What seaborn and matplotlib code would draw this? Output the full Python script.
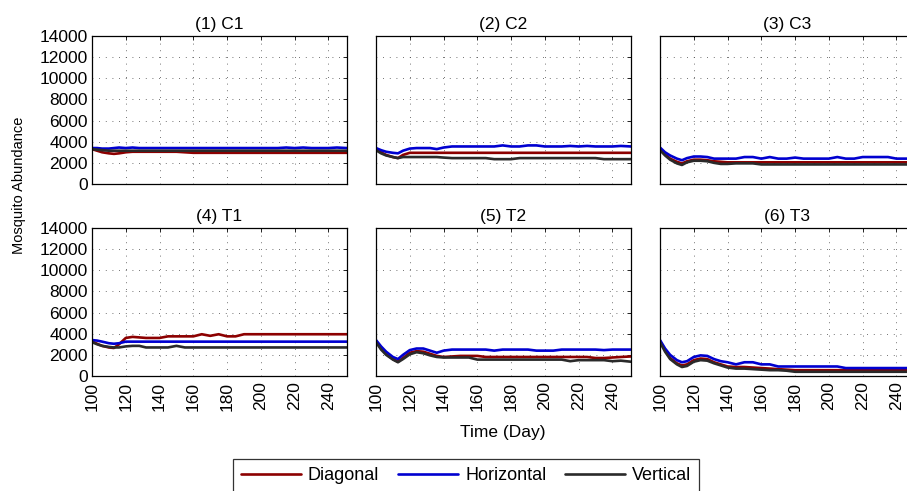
import numpy as np
import pandas as pd
import matplotlib
matplotlib.use("Agg")
import matplotlib.pyplot as plt
import seaborn as sns

sns.set_style("white")
plt.rcParams['font.family'] = ['Liberation Sans', 'DejaVu Sans']
plt.rcParams['text.color'] = 'black'
plt.rcParams['axes.labelcolor'] = 'black'
plt.rcParams['xtick.color'] = 'black'
plt.rcParams['ytick.color'] = 'black'

days = [100, 103, 106, 110, 113, 116, 120, 124, 128, 132, 136, 140, 145, 150,
        155, 160, 165, 170, 175, 180, 185, 190, 195, 200, 205, 210, 215, 220,
        225, 230, 235, 240, 245, 251]

panels = ["(1) C1", "(2) C2", "(3) C3", "(4) T1", "(5) T2", "(6) T3"]
series_names = ["Diagonal", "Horizontal", "Vertical"]

# (1) C1
c1_diag = [3300, 3150, 3000, 2900, 2850, 2900, 3000, 3050, 3050, 3050, 3050, 3050, 3050, 3050,
           3000, 2950, 2950, 2950, 2950, 2950, 2950, 2950, 2950, 2950, 2950, 2950, 2950, 2950,
           2950, 2950, 2950, 2950, 2950, 2950]
c1_horz = [3400, 3400, 3350, 3350, 3400, 3450, 3400, 3450, 3400, 3400, 3400, 3400, 3400, 3400,
           3400, 3400, 3400, 3400, 3400, 3400, 3400, 3400, 3400, 3400, 3400, 3400, 3450, 3400,
           3450, 3400, 3400, 3400, 3450, 3400]
c1_vert = [3300, 3250, 3200, 3150, 3150, 3150, 3150, 3150, 3150, 3150, 3150, 3150, 3150, 3150,
           3150, 3150, 3150, 3150, 3150, 3150, 3150, 3150, 3150, 3150, 3150, 3150, 3150, 3150,
           3150, 3150, 3150, 3150, 3150, 3150]
# (2) C2
c2_diag = [3300, 3000, 2750, 2550, 2450, 2750, 2950, 2950, 2950, 2950, 2950, 2950, 2950, 2950,
           2950, 2950, 2950, 2950, 2950, 2950, 2950, 2950, 2950, 2950, 2950, 2950, 2950, 2950,
           2950, 2950, 2950, 2950, 2950, 2950]
c2_horz = [3400, 3200, 3050, 2950, 2900, 3150, 3350, 3400, 3400, 3400, 3300, 3450, 3550, 3550,
           3550, 3550, 3550, 3550, 3650, 3550, 3550, 3650, 3650, 3550, 3550, 3550, 3600, 3550,
           3600, 3550, 3550, 3550, 3600, 3550]
c2_vert = [3200, 2900, 2700, 2550, 2450, 2550, 2550, 2550, 2550, 2550, 2550, 2500, 2450, 2450,
           2450, 2450, 2450, 2350, 2350, 2350, 2450, 2450, 2450, 2450, 2450, 2450, 2450, 2450,
           2450, 2450, 2350, 2350, 2350, 2350]
# (3) C3
c3_diag = [3300, 2800, 2400, 2100, 1950, 2150, 2300, 2300, 2250, 2150, 2100, 2050, 2050, 2050,
           2050, 2050, 2050, 2050, 2050, 2050, 2050, 2050, 2050, 2050, 2050, 2050, 2050, 2050,
           2050, 2050, 2050, 2050, 2050, 2050]
c3_horz = [3450, 3000, 2700, 2400, 2250, 2450, 2600, 2600, 2550, 2400, 2400, 2400, 2400, 2550,
           2550, 2400, 2550, 2400, 2400, 2500, 2400, 2400, 2400, 2400, 2550, 2400, 2400, 2550,
           2550, 2550, 2550, 2400, 2400, 2400]
c3_vert = [3200, 2700, 2300, 1950, 1800, 2050, 2200, 2200, 2150, 2000, 1900, 1900, 1950, 1950,
           1950, 1850, 1850, 1850, 1850, 1850, 1850, 1850, 1850, 1850, 1850, 1850, 1850, 1850,
           1850, 1850, 1850, 1850, 1850, 1850]
# (4) T1
t1_diag = [3300, 3050, 2850, 2700, 2650, 3000, 3600, 3700, 3650, 3600, 3600, 3600, 3750, 3750,
           3750, 3750, 3950, 3800, 3950, 3750, 3750, 3950, 3950, 3950, 3950, 3950, 3950, 3950,
           3950, 3950, 3950, 3950, 3950, 3950]
t1_horz = [3400, 3350, 3250, 3100, 3050, 3100, 3250, 3250, 3250, 3250, 3250, 3250, 3250, 3250,
           3250, 3250, 3250, 3250, 3250, 3250, 3250, 3250, 3250, 3250, 3250, 3250, 3250, 3250,
           3250, 3250, 3250, 3250, 3250, 3250]
t1_vert = [3200, 3000, 2850, 2750, 2700, 2700, 2800, 2850, 2850, 2700, 2700, 2700, 2700, 2850,
           2700, 2700, 2700, 2700, 2700, 2700, 2700, 2700, 2700, 2700, 2700, 2700, 2700, 2700,
           2700, 2700, 2700, 2700, 2700, 2700]
# (5) T2
t2_diag = [3300, 2600, 2100, 1600, 1350, 1700, 2200, 2350, 2300, 2100, 1900, 1800, 1850, 1900,
           1900, 1900, 1800, 1800, 1800, 1800, 1800, 1800, 1800, 1800, 1800, 1800, 1800, 1800,
           1800, 1700, 1700, 1750, 1800, 1850]
t2_horz = [3400, 2800, 2300, 1800, 1600, 2000, 2450, 2600, 2600, 2400, 2200, 2400, 2500, 2500,
           2500, 2500, 2500, 2400, 2500, 2500, 2500, 2500, 2400, 2400, 2400, 2500, 2500, 2500,
           2500, 2500, 2450, 2500, 2500, 2500]
t2_vert = [3200, 2500, 2000, 1550, 1300, 1600, 2050, 2250, 2150, 1950, 1800, 1750, 1750, 1750,
           1750, 1550, 1550, 1550, 1550, 1550, 1550, 1550, 1550, 1550, 1550, 1550, 1400, 1500,
           1500, 1500, 1500, 1400, 1450, 1350]
# (6) T3
t3_diag = [3300, 2400, 1700, 1200, 1000, 1100, 1500, 1650, 1600, 1300, 1100, 900, 850, 850,
           800, 750, 700, 650, 600, 550, 550, 550, 550, 550, 550, 550, 550, 550,
           550, 550, 550, 550, 550, 550]
t3_horz = [3400, 2600, 2000, 1500, 1300, 1400, 1800, 1950, 1900, 1600, 1400, 1300, 1100, 1300,
           1300, 1100, 1100, 900, 900, 900, 900, 900, 900, 900, 900, 750, 750, 750,
           750, 750, 750, 750, 750, 750]
t3_vert = [3200, 2300, 1600, 1100, 850, 950, 1350, 1500, 1450, 1200, 1000, 800, 700, 700,
           650, 600, 550, 550, 500, 400, 400, 400, 400, 400, 400, 400, 400, 400,
           400, 400, 400, 400, 400, 400]

panel_data = [
    (c1_diag, c1_horz, c1_vert),
    (c2_diag, c2_horz, c2_vert),
    (c3_diag, c3_horz, c3_vert),
    (t1_diag, t1_horz, t1_vert),
    (t2_diag, t2_horz, t2_vert),
    (t3_diag, t3_horz, t3_vert),
]

xticks = [100, 120, 140, 160, 180, 200, 220, 240]
yticks = [0, 2000, 4000, 6000, 8000, 10000, 12000, 14000]

palette = {"Diagonal": "#8c0000", "Horizontal": "#0000d0", "Vertical": "#2a2a2a"}

W, H = 907, 491
fig = plt.figure(figsize=(W / 100, H / 100), dpi=100)

lefts = [92, 376, 660]
tops = [36, 228]
aw, ah = 255, 148

FS = 12.5
LW = 1.9
for i, (title, vals) in enumerate(zip(panels, panel_data)):
    r, c = divmod(i, 3)
    ax = fig.add_axes([lefts[c] / W, 1 - (tops[r] + ah) / H, aw / W, ah / H])
    rows = []
    for name, v in zip(series_names, vals):
        for d, y in zip(days, v):
            rows.append({"Day": d, "Abundance": y, "Pattern": name})
    df = pd.DataFrame(rows)
    sns.lineplot(data=df, x="Day", y="Abundance", hue="Pattern", palette=palette,
                 hue_order=series_names, linewidth=LW, ax=ax, legend=False)
    ax.set_xlim(100, 251)
    ax.set_ylim(0, 14000)
    ax.set_xticks(xticks)
    ax.set_yticks(yticks)
    ax.grid(True, color="#444444", linestyle=(0, (1, 7)), linewidth=0.6)
    ax.tick_params(direction="in", length=3, width=0.6, top=True, right=True,
                   labelsize=FS, pad=3)
    ax.tick_params(axis="x", pad=4)
    for s in ax.spines.values():
        s.set_linewidth(0.9)
        s.set_color("black")
    ax.set_xlabel("")
    ax.set_ylabel("")
    if r == 0:
        ax.set_xticklabels([])
    else:
        ax.set_xticklabels([str(t) for t in xticks], rotation=90)
    if c != 0:
        ax.set_yticklabels([])
    ax.set_title(title, fontsize=FS, pad=5, color="black")

fig.text(19 / W, 1 - 185 / H, "Mosquito Abundance", rotation=90, fontsize=10.5,
         ha="center", va="center")
fig.text(503 / W, 1 - 432 / H, "Time (Day)", fontsize=FS, ha="center", va="center")

handles = [plt.Line2D([], [], color=palette[n], linewidth=LW) for n in series_names]
leg = fig.legend(handles, series_names, loc="upper left",
                 bbox_to_anchor=(233 / W, 1 - 459 / H), ncol=3, fontsize=13,
                 frameon=True, fancybox=False, handlelength=3.3, handletextpad=0.4,
                 columnspacing=1.05, borderpad=0.45, borderaxespad=0)
leg.get_frame().set_edgecolor("black")
leg.get_frame().set_linewidth(0.9)

fig.savefig("out.png", dpi=100)
